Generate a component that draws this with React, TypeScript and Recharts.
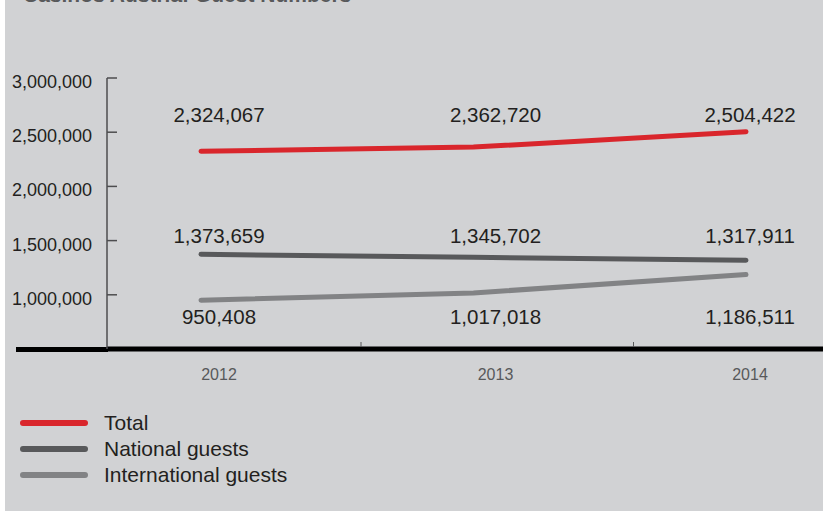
import React from 'react'
import { LineChart, Line, XAxis, YAxis, Legend, LabelList } from 'recharts'

const years = ['2012', '2013', '2014']
const totalGuests = [2324067, 2362720, 2504422]
const nationalGuests = [1373659, 1345702, 1317911]
const internationalGuests = [950408, 1017018, 1186511]
const yTicks = [1000000, 1500000, 2000000, 2500000, 3000000]

const series = [
  { key: 'total', name: 'Total', color: '#d9262c', values: totalGuests, rowY: 114 },
  { key: 'national', name: 'National guests', color: '#58595b', values: nationalGuests, rowY: 235 },
  { key: 'international', name: 'International guests', color: '#828385', values: internationalGuests, rowY: 316 },
]

const data = years.map((year, i) => ({
  year,
  total: totalGuests[i],
  national: nationalGuests[i],
  international: internationalGuests[i],
}))

// the printed labels sit in columns slightly right of the data points
const COLUMN_SHIFT = [18, 22, 4]
const fmt = (v: number) => Number(v).toLocaleString('en-US')

function ValueTick({ x, y, payload }: any) {
  return (
    <g>
      <line x1={x} x2={x + 10} y1={y} y2={y} stroke="#4d4d4f" strokeWidth={1.5} />
      <text x={x - 15} y={y + 4} textAnchor="end" dominantBaseline="central" fontSize={18} fill="#231f20">
        {fmt(payload.value)}
      </text>
    </g>
  )
}

function YearTick({ x, y, index, payload }: any) {
  return (
    <g>
      <text x={x + COLUMN_SHIFT[index]} y={y + 25} textAnchor="middle" dominantBaseline="central" fontSize={16} fill="#58595b">
        {payload.value}
      </text>
      {index < years.length - 1 && (
        <line x1={x + 160} x2={x + 160} y1={y - 7} y2={y - 2} stroke="#58595b" strokeWidth={1} />
      )}
    </g>
  )
}

function rowLabel(rowY: number) {
  return (props: any) => {
    const { x, index, value } = props
    return (
      <text x={x + COLUMN_SHIFT[index]} y={rowY} textAnchor="middle" dominantBaseline="central" fontSize={20.5} fill="#231f20">
        {fmt(value)}
      </text>
    )
  }
}

function LegendBox() {
  return (
    <div>
      {series.map((s) => (
        <div key={s.key} style={{ display: 'flex', alignItems: 'center', height: 26 }}>
          <svg width={68} height={26}>
            <line x1={3} x2={65} y1={13} y2={13} stroke={s.color} strokeWidth={6} strokeLinecap="round" />
          </svg>
          <span style={{ marginLeft: 16, fontSize: 21, color: '#231f20', lineHeight: '26px' }}>{s.name}</span>
        </div>
      ))}
    </div>
  )
}

export default function App() {
  return (
    <div
      style={{
        position: 'absolute', left: 0, top: 0, width: 823, height: 511,
        background: '#ffffff', overflow: 'hidden',
        fontFamily: '"Liberation Sans", Arial, sans-serif',
      }}
    >
      <div style={{ position: 'absolute', left: 5, top: 0, right: 0, bottom: 0, background: '#d1d2d4' }} />
      <div
        style={{
          position: 'absolute', left: 23, top: -16, fontSize: 21, lineHeight: '21px',
          fontWeight: 700, color: '#58595b', whiteSpace: 'nowrap',
        }}
      >
        Casinos Austria: Guest Numbers
      </div>
      {/* axis bar continues left of the value axis */}
      <div style={{ position: 'absolute', left: 16, top: 346.5, width: 92, height: 5, background: '#000' }} />
      <div style={{ position: 'absolute', left: 0, top: 0 }}>
        <LineChart width={823} height={511} data={data} margin={{ top: 78, right: 0, bottom: 122, left: 0 }}>
          <XAxis
            dataKey="year"
            height={40}
            padding={{ left: 94, right: 77 }}
            axisLine={{ stroke: '#000', strokeWidth: 5 }}
            tickLine={false}
            tickSize={0}
            tickMargin={0}
            tick={<YearTick />}
            interval={0}
          />
          <YAxis
            width={107}
            domain={[500000, 3000000]}
            ticks={yTicks}
            axisLine={{ stroke: '#4d4d4f', strokeWidth: 1.5 }}
            tickLine={false}
            tickSize={0}
            tickMargin={0}
            tick={<ValueTick />}
            interval={0}
          />
          <Legend
            layout="vertical"
            align="center"
            verticalAlign="middle"
            wrapperStyle={{ left: 20, top: 410, width: 320 }}
            content={<LegendBox />}
          />
          {series.map((s) => (
            <Line
              key={s.key}
              type="linear"
              dataKey={s.key}
              name={s.name}
              stroke={s.color}
              strokeWidth={5}
              strokeLinecap="round"
              dot={false}
              activeDot={false}
              isAnimationActive={false}
            >
              <LabelList dataKey={s.key} content={rowLabel(s.rowY)} />
            </Line>
          ))}
        </LineChart>
      </div>
    </div>
  )
}
